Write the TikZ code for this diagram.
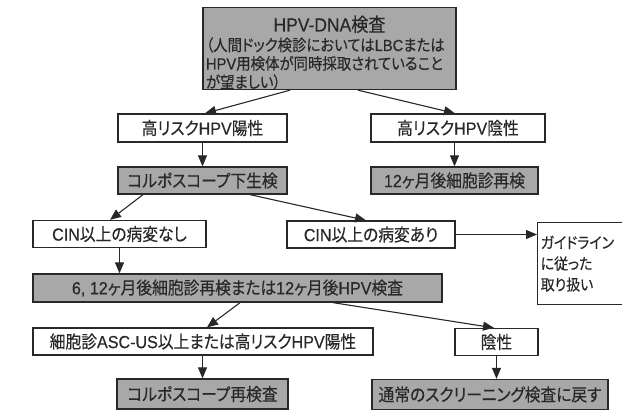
\documentclass[tikz,border=0pt]{standalone}
\usepackage{fontspec}
\setmainfont{Noto Sans CJK JP}[FakeStretch=0.9, FakeBold=0.3, RawFeature=+palt]
\newfontfamily\arialf{Liberation Sans}[FakeStretch=0.92, FakeBold=0.3]
\newcommand\ar[1]{{\arialf #1}}
\usetikzlibrary{arrows.meta}
\definecolor{boxgray}{RGB}{168,168,168}
\definecolor{ink}{RGB}{40,40,40}
\tikzset{
  box/.style={draw=ink, line width=1.3pt, fill=white, inner sep=0pt, text=ink,
    font=\fontsize{17.5}{21}\selectfont},
  graybox/.style={box, fill=boxgray},
  conn/.style={draw=ink, line width=1.1pt, -{Triangle[length=11pt,width=9pt]}},
}
\begin{document}
\begin{tikzpicture}[x=1pt,y=-1pt]
\useasboundingbox (0,0) rectangle (622,412);
\fill[white] (0,0) rectangle (622,412);

\node[graybox, minimum width=253, minimum height=79, text width=247, align=left,
  font=\fontsize{16}{18.5}\selectfont] (top) at (329.5,48.5)
  {\makebox[247pt]{\rule{0pt}{24pt}\fontsize{19}{20}\selectfont \ar{HPV-DNA}検査}\\[1pt]
   （人間ドック検診においては\ar{LBC}または\\
   \ar{HPV}用検体が同時採取されていること\\
   が望ましい）};

\node[box, minimum width=169, minimum height=28] (hpvpos) at (202.5,128) {高リスク\ar{HPV}陽性};
\node[box, minimum width=174, minimum height=28] (hpvneg) at (458,128) {高リスク\ar{HPV}陰性};
\node[graybox, minimum width=169, minimum height=27] (colpo) at (202.5,180.5) {コルポスコープ下生検};
\node[graybox, minimum width=167, minimum height=27] (cyto12) at (454.5,180.5) {\ar{12}ヶ月後細胞診再検};
\node[box, minimum width=173, minimum height=27] (cinno) at (119.5,234) {\ar{CIN}以上の病変なし};
\node[box, minimum width=168, minimum height=27] (cinyes) at (371,234.5) {\ar{CIN}以上の病変あり};
\node[box, anchor=north west, minimum width=113, minimum height=82, inner xsep=3pt, text width=107, align=left,
  font=\fontsize{15.5}{21}\selectfont] (guide) at (537,222) {ガイドライン\\に従った\\取り扱い};
\node[graybox, minimum width=409, minimum height=28] (six12) at (237.5,288) {\ar{6, 12}ヶ月後細胞診再検または\ar{12}ヶ月後\ar{HPV}検査};
\node[box, minimum width=340, minimum height=27] (ascus) at (203,341.5) {細胞診\ar{ASC-US}以上または高リスク\ar{HPV}陽性};
\node[box, minimum width=83, minimum height=27] (neg) at (496.5,342) {陰性};
\node[graybox, minimum width=171, minimum height=30] (colpo2) at (202.5,394) {コルポスコープ再検査};
\node[graybox, minimum width=236, minimum height=30] (normal) at (490,394.5) {通常のスクリーニング検査に戻す};

\draw[conn] ([xshift=-39.5]top.south) -- ([xshift=2.5]hpvpos.north);
\draw[conn] ([xshift=28.5]top.south) -- ([xshift=-3]hpvneg.north);
\draw[conn] (hpvpos.south) -- (colpo.north);
\draw[conn] (cyto12.north |- hpvneg.south) -- (cyto12.north);
\draw[conn] ([xshift=-59.5]colpo.south) -- ([xshift=-9.5]cinno.north);
\draw[conn] ([xshift=47.5]colpo.south) -- ([xshift=-5]cinyes.north);
\draw[conn] (cinyes.east) -- (guide.west |- cinyes.east);
\draw[conn] (cinno.south) -- (cinno.south |- six12.north);
\draw[conn] ([xshift=2.5]six12.south) -- ([xshift=4]ascus.north);
\draw[conn] ([xshift=95.5]six12.south) -- ([xshift=-2.5]neg.north);
\draw[conn] (colpo2.north |- ascus.south) -- (colpo2.north);
\draw[conn] (neg.south) -- (neg.south |- normal.north);
\end{tikzpicture}
\end{document}
